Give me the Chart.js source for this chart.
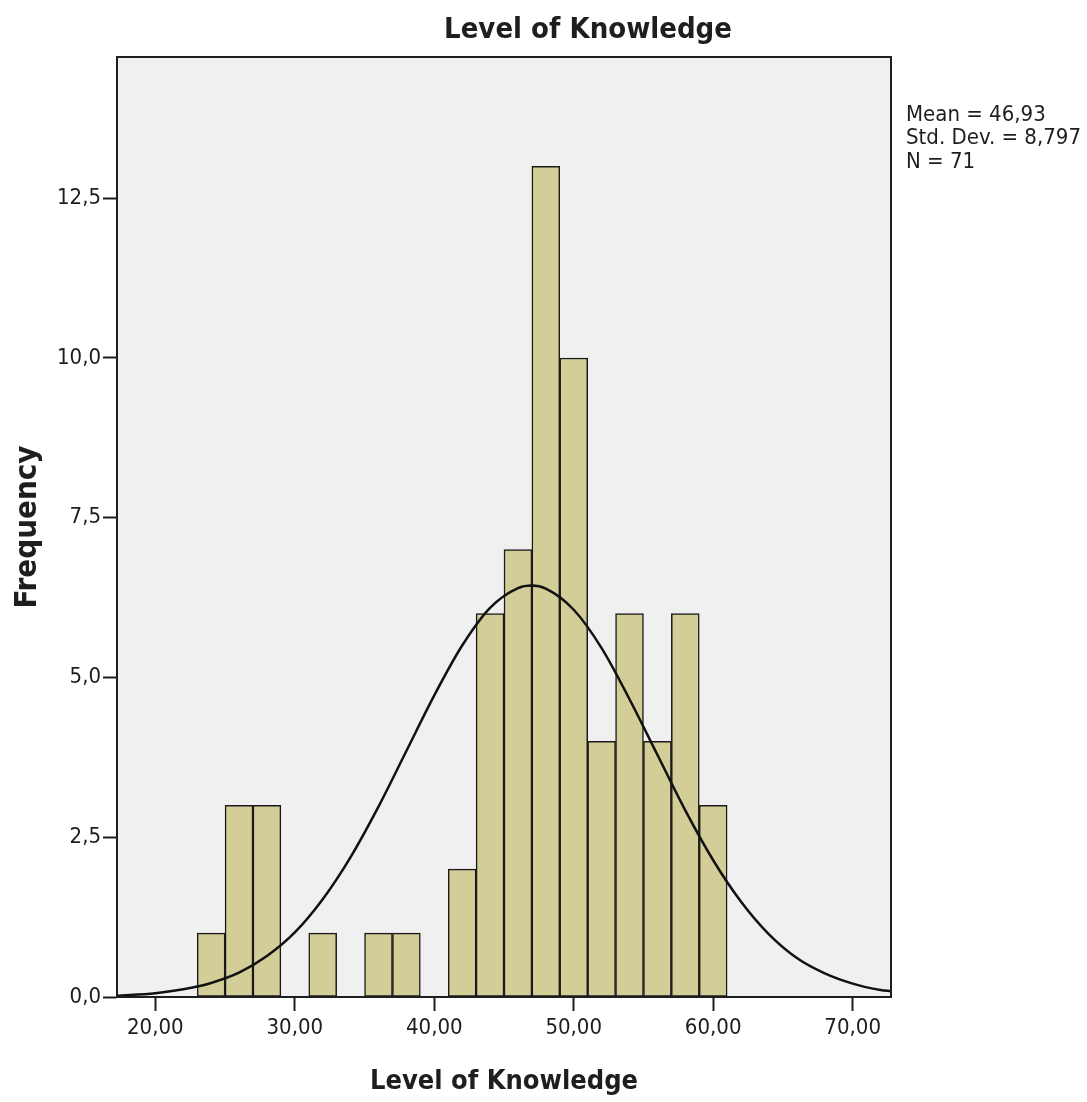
<!DOCTYPE html>
<html>
<head>
<meta charset="utf-8">
<title>Level of Knowledge</title>
<script src="https://cdn.jsdelivr.net/npm/chart.js@4"></script>
<style>
  body { margin: 0; background: #fff; }
  canvas { display: block; }
</style>
</head>
<body>
<canvas id="histChart" width="1087" height="1102"></canvas>
<script>
// histogram bins (lower edge, width 2) and frequencies
const binStarts = [23, 25, 27, 31, 35, 37, 41, 43, 45, 47, 49, 51, 53, 55, 57, 59];
const binCounts = [1, 3, 3, 1, 1, 1, 2, 6, 7, 13, 10, 4, 6, 4, 6, 3];
const binWidth = 2;

// fitted normal curve
const curveX = [17.25, 20, 22, 24, 26, 28, 30, 32, 34, 36, 38, 40, 42, 44, 46, 47, 48, 50, 52, 54, 56, 58, 60, 62, 64, 66, 68, 70, 72, 72.75];
const curveY = [0.02, 0.06, 0.12, 0.22, 0.38, 0.64, 1.01, 1.53, 2.19, 2.98, 3.85, 4.72, 5.50, 6.09, 6.40, 6.44, 6.39, 6.06, 5.46, 4.66, 3.79, 2.92, 2.14, 1.49, 0.98, 0.61, 0.37, 0.21, 0.11, 0.09];

const xTicks = [20, 30, 40, 50, 60, 70];
const yTicks = [0, 2.5, 5, 7.5, 10, 12.5];
const statLines = ['Mean = 46,93', 'Std. Dev. = 8,797', 'N = 71'];

const chartTitle = 'Level of Knowledge';
const xTitle = 'Level of Knowledge';
const yTitle = 'Frequency';

const FONT = '"DejaVu Sans Condensed", "DejaVu Sans", sans-serif';
const INK = '#1e1e1e';

const comma = (v, d) => v.toFixed(d).replace('.', ',');

const plotFrame = {
  id: 'plotFrame',
  beforeDraw(chart) {
    const { ctx, chartArea: a } = chart;
    ctx.save();
    ctx.fillStyle = '#f0f0f0';
    ctx.fillRect(a.left, a.top, a.right - a.left, a.bottom - a.top);
    ctx.restore();
  },
  afterDraw(chart) {
    const { ctx, chartArea: a } = chart;
    ctx.save();
    ctx.strokeStyle = INK;
    ctx.lineWidth = 2;
    ctx.strokeRect(a.left, a.top, a.right - a.left, a.bottom - a.top);

    ctx.fillStyle = INK;
    ctx.textAlign = 'center';
    ctx.textBaseline = 'middle';
    ctx.font = 'bold 29px ' + FONT;
    ctx.fillText(chartTitle, 588, 30);

    ctx.font = 'bold 27px ' + FONT;
    ctx.fillText(xTitle, (a.left + a.right) / 2, 1082);

    ctx.save();
    ctx.translate(28, (a.top + a.bottom) / 2);
    ctx.rotate(-Math.PI / 2);
    ctx.font = 'bold 31px ' + FONT;
    ctx.fillText(yTitle, 0, 0);
    ctx.restore();

    ctx.textAlign = 'left';
    ctx.font = '22px ' + FONT;
    statLines.forEach((t, i) => ctx.fillText(t, 906, 115 + i * 23.5));
    ctx.restore();
  }
};

const axisStyle = {
  border: { display: true, color: INK, width: 2 },
  grid: { display: true, drawOnChartArea: false, drawTicks: true, tickLength: 14, tickColor: INK, tickWidth: 2, offset: false },
};

new Chart(document.getElementById('histChart'), {
  type: 'bar',
  data: {
    datasets: [
      {
        type: 'line',
        data: curveX.map((x, i) => ({ x, y: curveY[i] })),
        borderColor: '#111',
        borderWidth: 2.5,
        pointRadius: 0,
        fill: false,
        cubicInterpolationMode: 'monotone',
        order: 0,
      },
      {
        type: 'bar',
        data: binStarts.map((s, i) => ({ x: s + binWidth / 2, y: binCounts[i] })),
        backgroundColor: '#d3ce97',
        borderColor: '#1a1a1a',
        borderWidth: 1.5,
        borderSkipped: false,
        barPercentage: 1,
        categoryPercentage: 1,
        order: 1,
      },
    ],
  },
  options: {
    responsive: false,
    animation: false,
    layout: { padding: { top: 57, right: 196, left: 0, bottom: 0 } },
    plugins: { legend: { display: false }, tooltip: { enabled: false }, title: { display: false } },
    scales: {
      x: {
        type: 'linear',
        min: 17.25,
        max: 72.75,
        offset: false,
        ...axisStyle,
        afterBuildTicks: (s) => { s.ticks = xTicks.map((v) => ({ value: v })); },
        afterFit: (s) => { s.height = 105; },
        ticks: {
          color: INK,
          padding: 4,
          maxRotation: 0,
          autoSkip: false,
          font: { family: FONT, size: 22 },
          callback: (v) => comma(v, 2),
        },
      },
      y: {
        type: 'linear',
        min: 0,
        max: 14.71,
        ...axisStyle,
        afterBuildTicks: (s) => { s.ticks = yTicks.map((v) => ({ value: v })); },
        afterFit: (s) => { s.width = 117; },
        ticks: {
          color: INK,
          padding: 2,
          autoSkip: false,
          font: { family: FONT, size: 22 },
          callback: (v) => comma(v, 1),
        },
      },
    },
  },
  plugins: [plotFrame],
});
</script>
</body>
</html>
